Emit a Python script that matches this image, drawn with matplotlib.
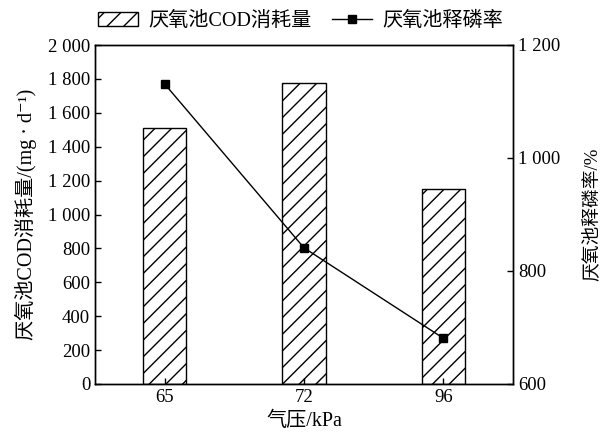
import numpy as np
import matplotlib.pyplot as plt

plt.rcParams['font.family'] = ['Liberation Serif', 'Noto Sans CJK SC', 'DejaVu Serif']
plt.rcParams['font.size'] = 13.5
plt.rcParams['hatch.linewidth'] = 1.0

# 数据
pressure = ['65', '72', '96']
cod_consumption = [1512, 1775, 1150]      # 厌氧池COD消耗量 mg/d
p_release = [1131, 841, 681]              # 厌氧池释磷率 %

x = np.arange(len(pressure))

fig = plt.figure(figsize=(6.01, 4.41), dpi=100)
ax = fig.add_axes([95 / 601, 57 / 441, 418 / 601, 339 / 441])

bars = ax.bar(x, cod_consumption, width=0.31, color='white', edgecolor='black',
              hatch='//', linewidth=1.0, label='厌氧池COD消耗量')
ax.set_xlim(-0.5, 2.5)
ax.set_ylim(0, 2000)
ax.set_yticks(np.arange(0, 2001, 200))
ax.set_yticklabels(['0', '200', '400', '600', '800', '1 000', '1 200',
                    '1 400', '1 600', '1 800', '2 000'])
ax.set_xticks(x)
ax.set_xticklabels(pressure)
ax.set_xlabel('气压/kPa', fontsize=14.5)
ax.set_ylabel('厌氧池COD消耗量/(mg · d⁻¹)', fontsize=14.5, labelpad=8)
ax.tick_params(direction='in', length=4, width=1)

ax2 = ax.twinx()
line, = ax2.plot(x, p_release, color='black', marker='s', markersize=6,
                 linewidth=1.0, label='厌氧池释磷率')
ax2.set_ylim(600, 1200)
ax2.set_yticks([600, 800, 1000, 1200])
ax2.set_yticklabels(['600', '800', '1 000', '1 200'])
ax2.set_ylabel('厌氧池释磷率/%', fontsize=13.5, labelpad=16)
ax2.tick_params(direction='in', length=4, width=1)

for a in (ax, ax2):
    for s in a.spines.values():
        s.set_linewidth(1.0)

fig.legend([bars, line], ['厌氧池COD消耗量', '厌氧池释磷率'], loc='upper center',
           bbox_to_anchor=(0.5, 1.015), ncol=2, frameon=False, handlelength=2.0,
           columnspacing=1.0, handletextpad=0.5, fontsize=14.5)

fig.savefig('out.png', dpi=100)
